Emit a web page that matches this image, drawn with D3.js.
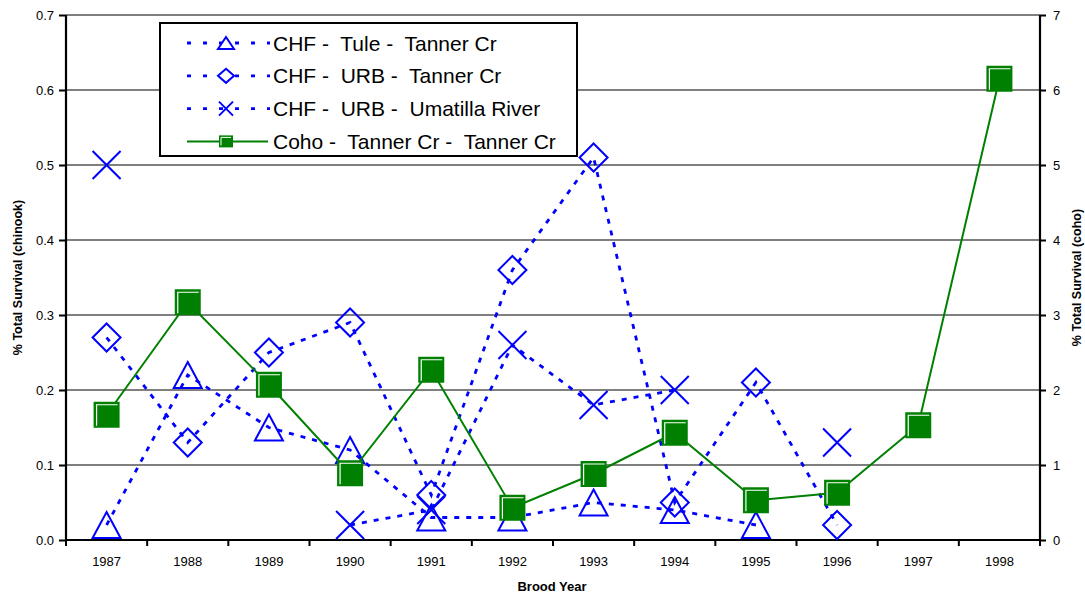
<!DOCTYPE html>
<html><head><meta charset="utf-8">
<script src="https://cdn.jsdelivr.net/npm/d3@7"></script>
<style>body{margin:0;background:#fff}svg{display:block;font-family:"Liberation Sans",Arial,sans-serif}text{white-space:pre}</style>
</head><body><svg id="c" width="1085" height="596"></svg>
<script>
const years = [1987,1988,1989,1990,1991,1992,1993,1994,1995,1996,1997,1998];
const tuleTanner = [0.02,0.22,0.15,0.12,0.03,0.03,0.05,0.04,0.02,null,null,null];
const urbTanner = [0.27,0.13,0.25,0.29,0.06,0.36,0.51,0.05,0.21,0.02,null,null];
const urbUmatilla = [0.50,null,null,0.02,0.04,0.26,0.18,0.20,null,0.13,null,null];
const cohoTanner = [1.67,3.17,2.07,0.89,2.27,0.43,0.88,1.43,0.53,0.63,1.53,6.15];
const leftTicks = [0,0.1,0.2,0.3,0.4,0.5,0.6,0.7];
const rightTicks = [0,1,2,3,4,5,6,7];
const seriesNames = ["CHF -  Tule -  Tanner Cr","CHF -  URB -  Tanner Cr","CHF -  URB -  Umatilla River","Coho -  Tanner Cr -  Tanner Cr"];

const svg = d3.select("#c");
const L=66,R=1040,T=15,B=540;
const x = d3.scaleBand().domain(years).range([L,R]);
const yL = d3.scaleLinear().domain([0,0.7]).range([B,T]);
const yR = d3.scaleLinear().domain([0,7]).range([B,T]);
const blue="#0000FF", green="#008000";

// gridlines
svg.append("g").selectAll("line").data(leftTicks.filter(d=>d>0)).join("line")
  .attr("x1",L).attr("x2",R).attr("y1",d=>yL(d)).attr("y2",d=>yL(d))
  .attr("stroke","#000").attr("stroke-width",1.2);

// axes
const gl = svg.append("g").attr("transform",`translate(${L},0)`)
  .call(d3.axisLeft(yL).tickValues(leftTicks).tickFormat(d3.format(".1f")).tickSize(7).tickPadding(5));
const gr = svg.append("g").attr("transform",`translate(${R},0)`)
  .call(d3.axisRight(yR).tickValues(rightTicks).tickFormat(d3.format("d")).tickSize(6).tickPadding(7));
const gb = svg.append("g").attr("transform",`translate(0,${B})`)
  .call(d3.axisBottom(x).tickSize(0).tickPadding(17));
svg.append("g").selectAll("line").data(years.concat(["end"])).join("line")
  .attr("x1",(d,i)=>L+i*x.bandwidth()).attr("x2",(d,i)=>L+i*x.bandwidth())
  .attr("y1",B).attr("y2",B+6).attr("stroke","#000").attr("stroke-width",2);
[gl,gr,gb].forEach(g=>{
  g.selectAll(".domain").attr("stroke","#000").attr("stroke-width",2.2);
  g.selectAll(".tick line").attr("stroke","#000").attr("stroke-width",2);
  g.selectAll("text").attr("font-size",13).attr("fill","#000").attr("font-family","Liberation Sans, Arial, sans-serif");
});
gl.selectAll(".domain").attr("d",`M0,${B}V${T}`);
gr.selectAll(".domain").attr("d",`M0,${B}V${T}`);
gb.selectAll(".domain").attr("d",`M${L},0H${R}`);

// titles
svg.append("text").attr("transform",`translate(18,${(T+B)/2}) rotate(-90)`).attr("text-anchor","middle")
  .attr("dominant-baseline","central").attr("font-size",12.5).attr("font-weight","bold").text("% Total Survival (chinook)");
svg.append("text").attr("transform",`translate(1077,${(T+B)/2}) rotate(-90)`).attr("text-anchor","middle")
  .attr("dominant-baseline","central").attr("font-size",12.5).attr("font-weight","bold").text("% Total Survival (coho)");
svg.append("text").attr("x",552).attr("y",591).attr("text-anchor","middle")
  .attr("font-size",13).attr("font-weight","bold").text("Brood Year");

const cx = d=>x(d)+x.bandwidth()/2;
function marker(g, type, px, py){
  if(type==="tri"){
    g.append("path").attr("d",`M${px},${py-13}L${px+14},${py+13}L${px-14},${py+13}Z`)
      .attr("fill","none").attr("stroke",blue).attr("stroke-width",2);
  } else if(type==="dia"){
    g.append("path").attr("d",`M${px},${py-14}L${px+14},${py}L${px},${py+14}L${px-14},${py}Z`)
      .attr("fill","none").attr("stroke",blue).attr("stroke-width",2);
  } else if(type==="x"){
    g.append("path").attr("d",`M${px-14},${py-14}L${px+14},${py+14}M${px+14},${py-14}L${px-14},${py+14}`)
      .attr("fill","none").attr("stroke",blue).attr("stroke-width",2);
  } else if(type==="sq"){
    g.append("rect").attr("x",px-13).attr("y",py-13).attr("width",26).attr("height",26).attr("fill",green);
    g.append("path").attr("d",`M${px-10},${py+11}V${py-10}H${px+11}`).attr("fill","none").attr("stroke","#fff").attr("stroke-width",1.2);
  }
}
function series(vals, scale, type, color, dash){
  const g = svg.append("g");
  const pts = years.map((yr,i)=>({yr,v:vals[i]}));
  const line = d3.line().defined(d=>d.v!==null).x(d=>cx(d.yr)).y(d=>scale(d.v));
  g.append("path").datum(pts).attr("d",line).attr("fill","none").attr("stroke",color)
    .attr("stroke-width",dash?2.8:2).attr("stroke-dasharray",dash||null);
  pts.filter(d=>d.v!==null).forEach(d=>marker(g,type,cx(d.yr),scale(d.v)));
}
series(tuleTanner,yL,"tri",blue,"5,7");
series(urbTanner,yL,"dia",blue,"5,7");
series(urbUmatilla,yL,"x",blue,"5,7");
series(cohoTanner,yR,"sq",green,null);

// legend
const lg = svg.append("g");
lg.append("rect").attr("x",160).attr("y",23).attr("width",417).attr("height",133).attr("fill","#fff").attr("stroke","#000").attr("stroke-width",2);
const types=["tri","dia","x","sq"];
seriesNames.forEach((n,i)=>{
  const yy = 43 + i*32.8;
  if(i<3){
    lg.append("line").attr("x1",187).attr("x2",270).attr("y1",yy).attr("y2",yy).attr("stroke",blue).attr("stroke-width",2.8).attr("stroke-dasharray","4,12");
    const mg = lg.append("g");
    if(types[i]==="tri") mg.append("path").attr("d",`M226,${yy-6}L234,${yy+6}L218,${yy+6}Z`).attr("fill","#fff").attr("stroke",blue).attr("stroke-width",2);
    if(types[i]==="dia") mg.append("path").attr("d",`M226,${yy-7}L234,${yy}L226,${yy+7}L218,${yy}Z`).attr("fill","#fff").attr("stroke",blue).attr("stroke-width",2);
    if(types[i]==="x") mg.append("path").attr("d",`M219,${yy-7}L233,${yy+7}M233,${yy-7}L219,${yy+7}`).attr("fill","none").attr("stroke",blue).attr("stroke-width",2);
  } else {
    lg.append("line").attr("x1",187).attr("x2",268).attr("y1",yy).attr("y2",yy).attr("stroke",green).attr("stroke-width",2);
    lg.append("rect").attr("x",219).attr("y",yy-6).attr("width",14).attr("height",12).attr("fill",green);
    lg.append("path").attr("d",`M221,${yy+4}V${yy-4}H231`).attr("fill","none").attr("stroke","#fff").attr("stroke-width",1);
  }
  lg.append("text").attr("x",273).attr("y",yy).attr("dominant-baseline","central").attr("font-size",21).attr("fill","#000").text(n);
});
</script></body></html>
